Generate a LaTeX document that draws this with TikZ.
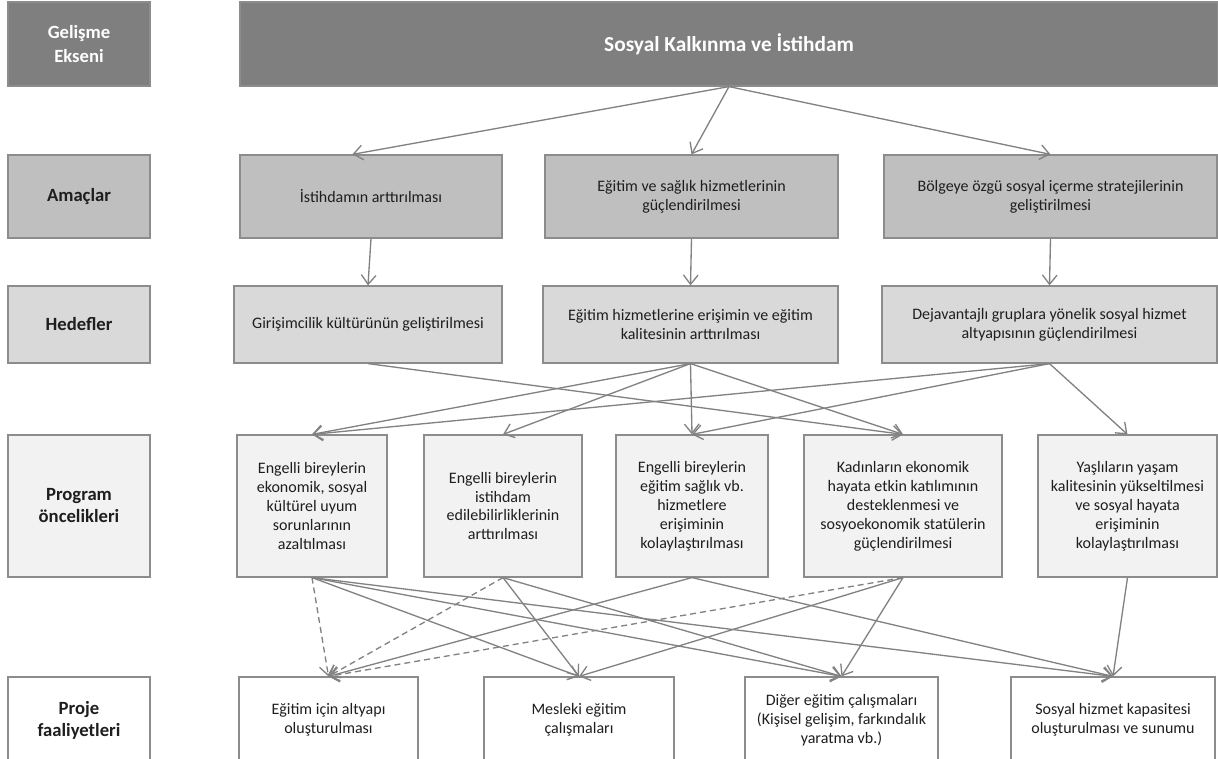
\documentclass[tikz,border=0pt]{standalone}
\usepackage{fontspec}
\setmainfont{Carlito}
\usetikzlibrary{arrows.meta}
\definecolor{koyu}{HTML}{7F7F7F}
\definecolor{amac}{HTML}{BFBFBF}
\definecolor{hedef}{HTML}{D9D9D9}
\definecolor{oncelik}{HTML}{F2F2F2}
\definecolor{cerceve}{HTML}{8C8C8C}
\definecolor{okrenk}{HTML}{828282}
\definecolor{yazi}{HTML}{1E1E1E}

\begin{document}
\begin{tikzpicture}[x= 0.75pt, y= -0.75pt,
	kutu/.style= {draw= cerceve, line width= 0.9pt, align= center, inner sep= 2pt, text= yazi, font= \fontsize{12}{14.2}\selectfont},
	baslik/.style= {kutu, minimum width= 106.5pt, font= \fontsize{14}{16.5}\selectfont\bfseries},
	ok/.style= {draw= okrenk, line width= 1pt, -{Straight Barb[length= 7pt, width= 11pt]}},
	kesik/.style= {ok, dash pattern= on 4.5pt off 3pt}]
	\clip (0, 0) rectangle (1218, 759); %外枠

	%左の見出し
	\node[baslik, fill= koyu, text= white, minimum height= 63pt, font= \fontsize{14}{18}\selectfont\bfseries](l1) at (79, 44) {Gelişme\\Ekseni};
	\node[baslik, fill= amac, minimum height= 62.25pt](l2) at (79, 196.5) {Amaçlar};
	\node[baslik, fill= hedef, minimum height= 57.75pt](l3) at (79, 324.5) {Hedefler};
	\node[baslik, fill= oncelik, minimum height= 106.5pt](l4) at (79, 506) {Program\\öncelikleri};
	\node[baslik, fill= white, minimum height= 64.5pt](l5) at (79, 720) {Proje\\faaliyetleri};

	%発展軸
	\node[kutu, fill= koyu, text= white, minimum width= 733.5pt, minimum height= 63pt, font= \fontsize{16}{19}\selectfont\bfseries](t) at (729, 44) {Sosyal Kalkınma ve İstihdam};

	%目的
	\node[kutu, fill= amac, minimum width= 196.5pt, minimum height= 62.25pt](a1) at (371, 196.5) {İstihdamın arttırılması};
	\node[kutu, fill= amac, minimum width= 219.75pt, minimum height= 62.25pt](a2) at (691.5, 196.5) {Eğitim ve sağlık hizmetlerinin\\güçlendirilmesi};
	\node[kutu, fill= amac, minimum width= 249.75pt, minimum height= 62.25pt](a3) at (1050.5, 196.5) {Bölgeye özgü sosyal içerme stratejilerinin\\geliştirilmesi};

	%目標
	\node[kutu, fill= hedef, minimum width= 201pt, minimum height= 57.75pt](h1) at (368, 324.5) {Girişimcilik kültürünün geliştirilmesi};
	\node[kutu, fill= hedef, minimum width= 221.25pt, minimum height= 57.75pt](h2) at (690.5, 324.5) {Eğitim hizmetlerine erişimin ve eğitim\\kalitesinin arttırılması};
	\node[kutu, fill= hedef, minimum width= 251.25pt, minimum height= 57.75pt](h3) at (1049.5, 324.5) {Dejavantajlı gruplara yönelik sosyal hizmet\\altyapısının güçlendirilmesi};

	%優先事項
	\node[kutu, fill= oncelik, minimum width= 112.5pt, minimum height= 106.5pt](p1) at (312, 506) {Engelli bireylerin\\ekonomik, sosyal\\kültürel uyum\\sorunlarının\\azaltılması};
	\node[kutu, fill= oncelik, minimum width= 118.5pt, minimum height= 106.5pt](p2) at (503, 506) {Engelli bireylerin\\istihdam\\edilebilirliklerinin\\arttırılması};
	\node[kutu, fill= oncelik, minimum width= 114pt, minimum height= 106.5pt](p3) at (692, 506) {Engelli bireylerin\\eğitim sağlık vb.\\hizmetlere\\erişiminin\\kolaylaştırılması};
	\node[kutu, fill= oncelik, minimum width= 148.5pt, minimum height= 106.5pt](p4) at (903, 506) {Kadınların ekonomik\\hayata etkin katılımının\\desteklenmesi ve\\sosyoekonomik statülerin\\güçlendirilmesi};
	\node[kutu, fill= oncelik, minimum width= 134.25pt, minimum height= 106.5pt](p5) at (1127.5, 506) {Yaşlıların yaşam\\kalitesinin yükseltilmesi\\ve sosyal hayata\\erişiminin\\kolaylaştırılması};

	%プロジェクト活動
	\node[kutu, fill= white, minimum width= 134.25pt, minimum height= 64.5pt](j1) at (328.5, 720) {Eğitim için altyapı\\oluşturulması};
	\node[kutu, fill= white, minimum width= 142.5pt, minimum height= 64.5pt](j2) at (579, 720) {Mesleki eğitim\\çalışmaları};
	\node[kutu, fill= white, minimum width= 144.75pt, minimum height= 64.5pt](j3) at (841.5, 720) {Diğer eğitim çalışmaları\\(Kişisel gelişim, farkındalık\\yaratma vb.)};
	\node[kutu, fill= white, minimum width= 153pt, minimum height= 64.5pt](j4) at (1113, 720) {Sosyal hizmet kapasitesi\\oluşturulması ve sunumu};

	%矢印
	\draw[ok](t.south)-- ([xshift= -14pt]a1.north);
	\draw[ok](t.south)-- (a2.north);
	\draw[ok](t.south)-- (a3.north);
	\draw[ok](a1.south)-- (h1.north);
	\draw[ok](a2.south)-- (h2.north);
	\draw[ok](a3.south)-- (h3.north);

	\draw[ok](h1.south)-- (p4.north);
	\draw[ok](h2.south)-- (p1.north);
	\draw[ok](h2.south)-- (p2.north);
	\draw[ok](h2.south)-- (p3.north);
	\draw[ok](h2.south)-- (p4.north);
	\draw[ok](h3.south)-- (p1.north);
	\draw[ok](h3.south)-- (p3.north);
	\draw[ok](h3.south)-- (p5.north);

	\draw[kesik](p1.south)-- (j1.north);
	\draw[ok](p1.south)-- (j2.north);
	\draw[ok](p1.south)-- (j3.north);
	\draw[ok](p1.south)-- (j4.north);
	\draw[kesik](p2.south)-- (j1.north);
	\draw[ok](p2.south)-- (j2.north);
	\draw[ok](p2.south)-- (j3.north);
	\draw[ok](p3.south)-- (j1.north);
	\draw[ok](p3.south)-- (j4.north);
	\draw[kesik](p4.south)-- (j1.north);
	\draw[ok](p4.south)-- (j2.north);
	\draw[ok](p4.south)-- (j3.north);
	\draw[ok](p5.south)-- (j4.north);
\end{tikzpicture}
\end{document}
